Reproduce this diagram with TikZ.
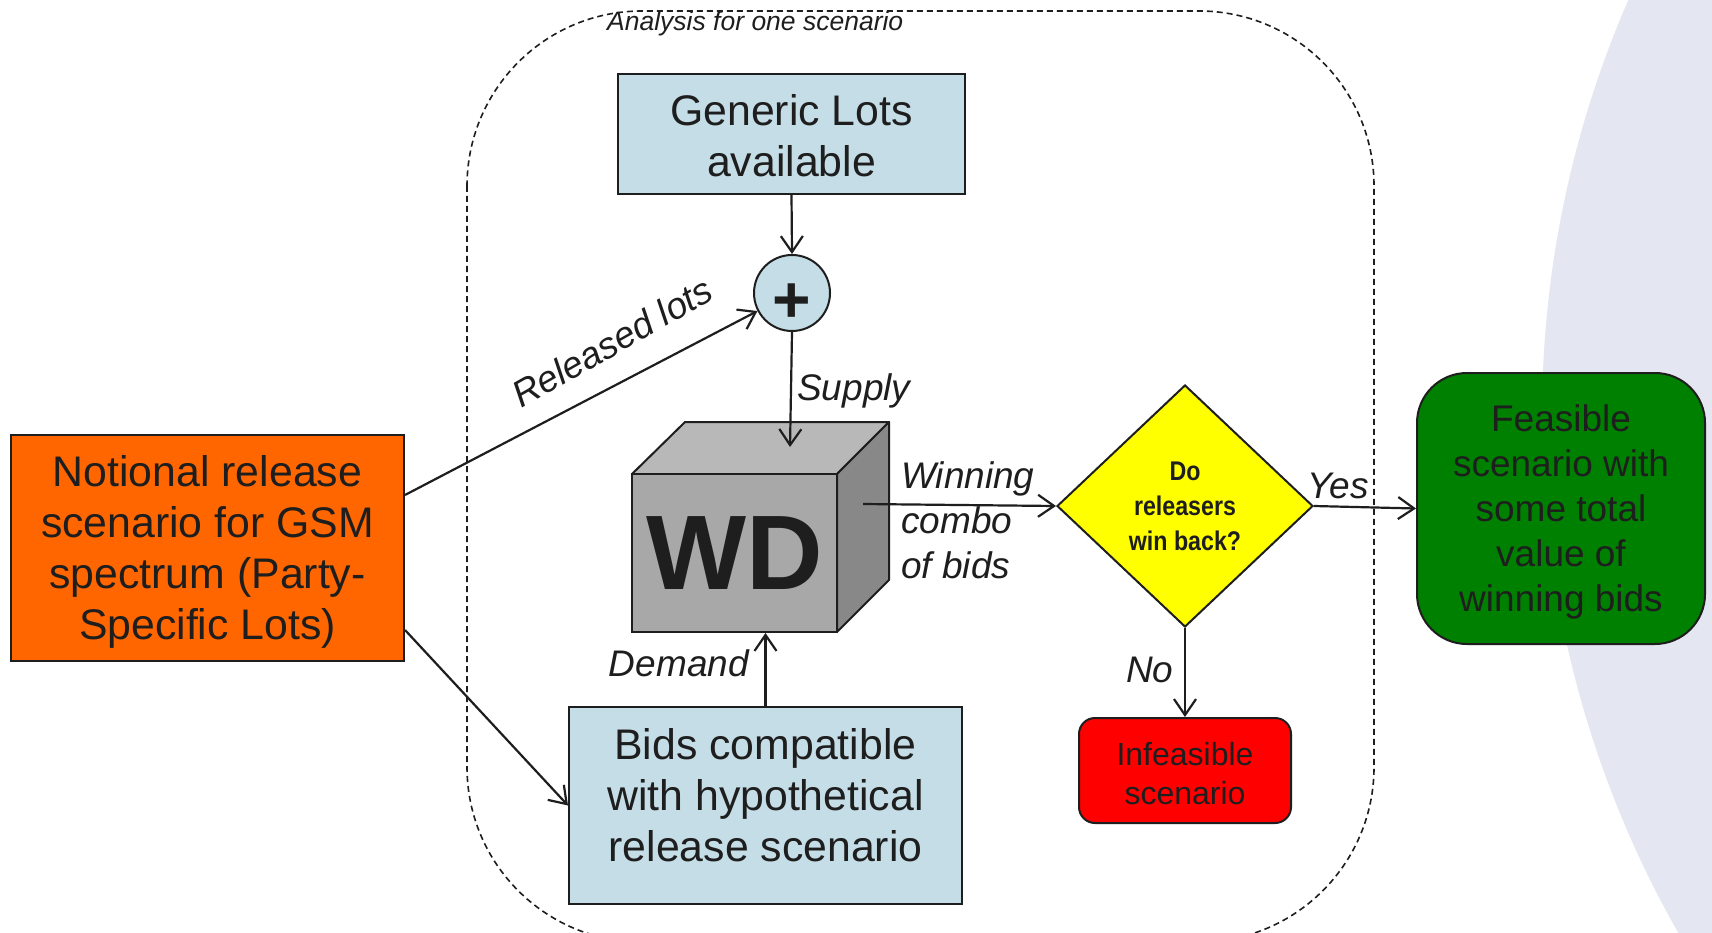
\documentclass[tikz,border=0pt]{standalone}
\usepackage{fontspec}
\usepackage{graphicx}
\setmainfont{Liberation Sans}
\usetikzlibrary{shapes.geometric,arrows.meta}
\definecolor{boxblue}{RGB}{197,221,230}
\definecolor{orng}{RGB}{255,102,0}
\definecolor{grn}{RGB}{0,128,0}
\definecolor{ylw}{RGB}{255,255,0}
\definecolor{rd}{RGB}{255,0,0}
\definecolor{txt}{RGB}{30,30,30}
\definecolor{bgc}{RGB}{228,231,241}
\definecolor{cubefront}{RGB}{168,168,168}
\definecolor{cubetopc}{RGB}{184,184,184}
\definecolor{cubeside}{RGB}{136,136,136}
\newcommand{\nrw}[1]{\scalebox{0.86}[1]{#1}}
\begin{document}
\begin{tikzpicture}[x=1pt,y=-1pt,
  box/.style={draw=txt, line width=2pt, text=txt, align=center, inner sep=0pt},
  big/.style={font=\fontsize{42.8}{51}\selectfont},
  lbl/.style={text=txt, inner sep=0pt, font=\fontsize{37}{45}\selectfont\itshape},
  arr/.style={draw=txt, line width=2.2pt, -{Straight Barb[length=16pt,width=22pt,line width=2.2pt]}},
]
\useasboundingbox (0,0) rectangle (1712,933);
\fill[white] (0,0) rectangle (1712,933);
\begin{scope}
\clip (0,0) rectangle (1712,933);
\fill[bgc] (2587,416.5) circle[radius=1045];
\draw[txt, line width=1.6pt, dash pattern=on 6pt off 4pt, rounded corners=175pt] (467,11) rectangle (1374,942);
\end{scope}

\node[box, fill=orng, big, minimum width=393, minimum height=226] (orange) at (207.5,548) {\rule{0pt}{38pt}Notional release\\scenario for GSM\\spectrum (Party-\\Specific Lots)};
\node[box, fill=boxblue, big, minimum width=347, minimum height=120] (generic) at (791.5,134) {\rule{0pt}{33.5pt}Generic Lots\\available};
\node[box, fill=boxblue, circle, minimum size=76, text height=59pt, text depth=0pt, font=\fontsize{66}{66}\selectfont\bfseries] (plus) at (792,293) {+};

\filldraw[fill=cubetopc, draw=txt, line width=2pt, line join=round] (632,474) -- (685,422) -- (889,422) -- (837,474) -- cycle;
\filldraw[fill=cubeside, draw=txt, line width=2pt, line join=round] (837,474) -- (889,422) -- (889,580) -- (837,632) -- cycle;
\node[box, fill=cubefront, minimum width=205, minimum height=158, font=\fontsize{106}{106}\selectfont\bfseries] (wd) at (734.5,553) {WD};
\coordinate (cubein) at (790,447);
\coordinate (cubeout) at (863,504);

\node[box, fill=boxblue, big, minimum width=393, minimum height=197] (bids) at (765.5,805.5) {Bids compatible\\with hypothetical\\release scenario\rule[-22pt]{0pt}{0pt}};
\node[draw=txt, line width=2pt, fill=ylw, diamond, inner sep=0pt, minimum width=256, minimum height=242, align=center, text=txt, font=\fontsize{27}{35}\selectfont\bfseries] (dia) at (1185,506) {\nrw{Do}\\\nrw{releasers}\\\nrw{win back?}};
\node[box, fill=grn, rounded corners=50, minimum width=288, minimum height=271, font=\fontsize{37}{45}\selectfont] (green) at (1561,508.5) {\rule{0pt}{33pt}Feasible\\scenario with\\some total\\value of\\winning bids};
\node[box, fill=rd, rounded corners=16, minimum width=212, minimum height=105, font=\fontsize{32}{39}\selectfont] (inf) at (1185,770.5) {\rule{0pt}{29.5pt}Infeasible\\scenario};

\draw[arr] (generic.south) -- (plus.north);
\draw[arr] ([yshift=53pt]orange.east) -- (plus);
\draw[arr] (plus.south) -- (cubein);
\draw[arr] (bids.north) -- (bids.north |- wd.south);
\draw[arr] (cubeout) -- (dia.west);
\draw[arr] (dia.east) -- (green.west);
\draw[arr] (dia.south) -- (inf.north);
\draw[arr] ([yshift=-82pt]orange.east) -- (bids.west);

\node[lbl, rotate=29.6] (rel) at (612,342) {Released lots};
\node[lbl, anchor=base west] (sup) at (797,400) {Supply};
\node[lbl, anchor=west, align=left] (win) at (901,520) {Winning\\combo\\of bids};
\node[lbl, anchor=base east] (dem) at (749,676) {Demand};
\node[lbl, anchor=base west] (yes) at (1307,498) {Yes};
\node[lbl, anchor=base west] (no) at (1126,682) {No};
\node[text=txt, inner sep=0pt, anchor=base west, font=\fontsize{26.5}{30}\selectfont\itshape] (title) at (607,31) {Analysis for one scenario};
\end{tikzpicture}
\end{document}
